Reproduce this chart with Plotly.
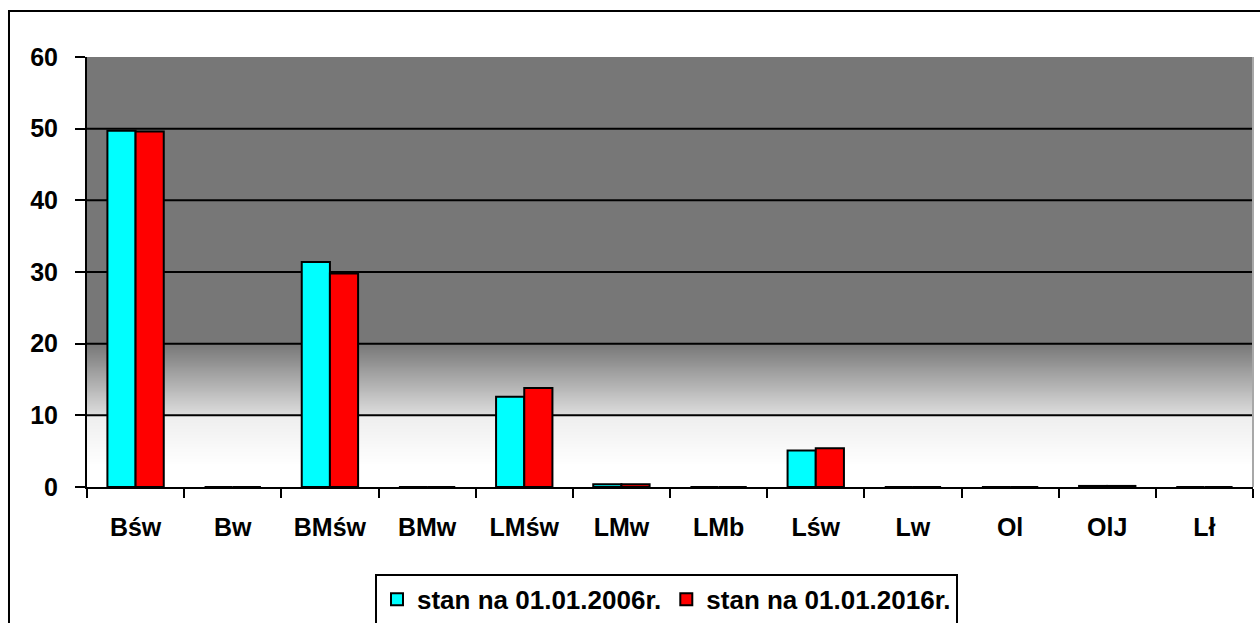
"""Udział typów siedliskowych lasu - porównanie 2006 i 2016."""
import base64
import struct
import zlib

import plotly.graph_objects as go

categories = ["Bśw", "Bw", "BMśw", "BMw", "LMśw", "LMw", "LMb", "Lśw", "Lw", "Ol", "OlJ", "Lł"]
stan_2006 = [49.7, 0, 31.4, 0, 12.6, 0.4, 0, 5.1, 0, 0, 0.15, 0]
stan_2016 = [49.6, 0, 29.8, 0, 13.8, 0.4, 0, 5.4, 0, 0, 0.15, 0]
series_names = ["stan na 01.01.2006r.", "stan na 01.01.2016r."]
y_ticks = [0, 10, 20, 30, 40, 50, 60]

FONT = "Liberation Sans, Arial, sans-serif"
GRAY = 119


def _shade(v):
    # gradient tła: szare od 20 w górę, rozjaśnia się ku białemu przy dole
    if v >= 20:
        return GRAY
    if v >= 10:
        return GRAY + (222 - GRAY) * (20 - v) / 10
    if v >= 3:
        return 238 + (255 - 238) * (10 - v) / 7
    return 255


def _gradient_png(top, rows):
    """Pionowy gradient 1 x rows jako data URI (PNG w skali szarości)."""
    raw = b""
    for i in range(rows):
        v = top - (i + 0.5) * top / rows
        raw += b"\x00" + bytes([int(round(_shade(v)))])

    def chunk(tag, data):
        body = tag + data
        return struct.pack(">I", len(data)) + body + struct.pack(">I", zlib.crc32(body) & 0xFFFFFFFF)

    png = b"\x89PNG\r\n\x1a\n"
    png += chunk(b"IHDR", struct.pack(">IIBBBBB", 1, rows, 8, 0, 0, 0, 0))
    png += chunk(b"IDAT", zlib.compress(raw))
    png += chunk(b"IEND", b"")
    return "data:image/png;base64," + base64.b64encode(png).decode()


fig = go.Figure()
for name, values, color in [
    (series_names[0], stan_2006, "#00FFFF"),
    (series_names[1], stan_2016, "#FF0000"),
]:
    fig.add_trace(
        go.Bar(
            x=categories,
            y=values,
            name=name,
            marker=dict(color=color, line=dict(color="black", width=2)),
        )
    )

fig.add_layout_image(
    source=_gradient_png(60, 600),
    xref="paper", yref="y", x=0, y=60, sizex=1, sizey=60,
    xanchor="left", yanchor="top", sizing="stretch", layer="below",
)

shapes = []
# linie siatki
for t in y_ticks[1:-1]:
    shapes.append(
        dict(type="line", xref="paper", yref="y", x0=0, x1=1, y0=t, y1=t,
             line=dict(color="black", width=2), layer="between")
    )
# prawa krawędź obszaru wykresu
shapes.append(
    dict(type="line", xref="paper", yref="paper", x0=1, x1=1, y0=0, y1=1,
         line=dict(color="#a8a8a8", width=2))
)
# ramka całego wykresu
shapes.append(
    dict(type="rect", xref="paper", yref="paper", x0=-0.0669, x1=1.05, y0=-0.5, y1=1.107,
         line=dict(color="black", width=2), fillcolor="rgba(0,0,0,0)")
)

fig.update_layout(
    width=1260,
    height=623,
    margin=dict(l=87, r=7, t=57, b=136, autoexpand=False),
    paper_bgcolor="white",
    plot_bgcolor="white",
    barmode="group",
    bargap=0.42,
    bargroupgap=0,
    font=dict(family=FONT, size=25, color="black", weight="bold"),
    shapes=shapes,
    showlegend=True,
    legend=dict(
        orientation="h",
        x=0.497,
        xanchor="center",
        y=-0.202,
        yanchor="top",
        bgcolor="white",
        bordercolor="black",
        borderwidth=2,
        font=dict(family=FONT, size=26, color="black", weight="bold"),
        itemwidth=30,
    ),
)
fig.update_xaxes(
    showline=True,
    linecolor="black",
    linewidth=2,
    ticks="outside",
    tickson="boundaries",
    ticklen=9,
    tickwidth=2,
    tickcolor="black",
    ticklabelstandoff=17,
    showgrid=False,
    tickfont=dict(family=FONT, size=25, color="black", weight="bold"),
)
fig.update_yaxes(
    range=[0, 60],
    tickvals=y_ticks,
    showline=True,
    linecolor="black",
    linewidth=2,
    ticks="outside",
    ticklen=10,
    tickwidth=2,
    tickcolor="black",
    ticklabelstandoff=12,
    showgrid=False,
    zeroline=False,
    tickfont=dict(family=FONT, size=25, color="black", weight="bold"),
)

fig.write_html(
    "out.html",
    config={"displayModeBar": False},
    post_script="document.body.style.margin='0';",
)
